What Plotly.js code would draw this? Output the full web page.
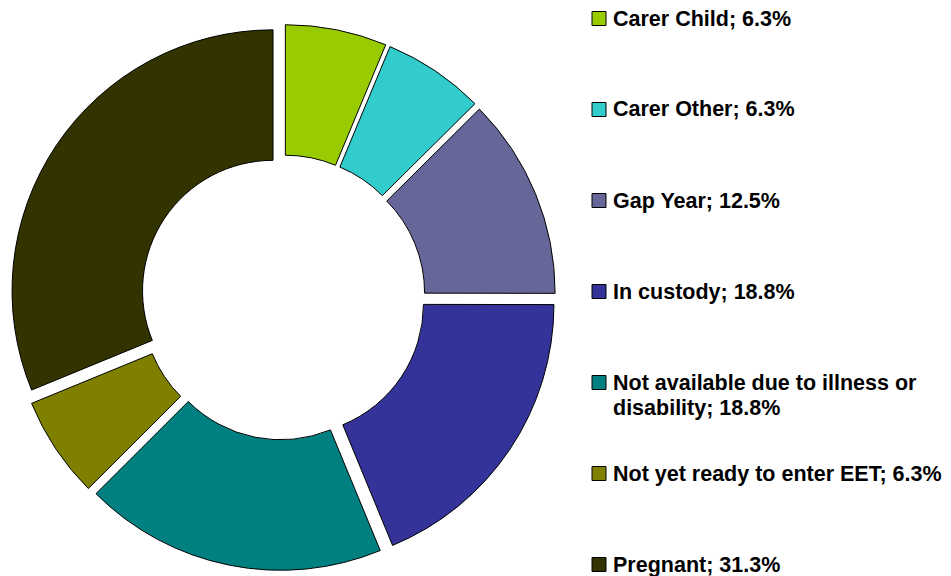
<!DOCTYPE html>
<html>
<head>
<meta charset="utf-8">
<script src="https://cdn.plot.ly/plotly-3.0.1.min.js"></script>
<style>html,body{margin:0;padding:0;background:#fff;}#chart{width:951px;height:576px;}</style>
</head>
<body>
<div id="chart"></div>
<script>
const labels = ["Carer Child", "Carer Other", "Gap Year", "In custody",
  "Not available due to illness or disability", "Not yet ready to enter EET", "Pregnant"];
const values = [6.3, 6.3, 12.5, 18.8, 18.8, 6.3, 31.3];
const colors = ["#99CC00", "#33CCCC", "#666699", "#333399", "#008080", "#808000", "#333300"];

const W = 951, H = 576;
const FONT = "Liberation Sans, Arial, sans-serif";

// legend text, wrapped like the reference
function wrap(text, maxChars) {
  const words = text.split(" ");
  const lines = [];
  let cur = "";
  words.forEach(w => {
    const t = cur ? cur + " " + w : w;
    if (t.length > maxChars && cur) { lines.push(cur); cur = w; } else { cur = t; }
  });
  if (cur) lines.push(cur);
  return lines;
}

const trace = {
  type: "pie",
  labels: labels,
  values: values,
  sort: false,
  direction: "clockwise",
  rotation: 0,
  hole: 0.5,
  pull: labels.map(() => 0.046),
  marker: { colors: colors, line: { color: "#000000", width: 1 } },
  textinfo: "none",
  hoverinfo: "label+percent",
  showlegend: false,
  domain: { x: [10 / W, 556 / W], y: [1 - 570.5 / H, 1 - 24.5 / H] }
};

const annotations = [];
const shapes = [];
const rowStart = 18.5, rowStep = 91, lineStep = 25;
labels.forEach((lab, i) => {
  const y0 = rowStart + i * rowStep;
  shapes.push({
    type: "rect", xref: "paper", yref: "paper",
    x0: 592 / W, x1: 606 / W, y0: 1 - (y0 - 7) / H, y1: 1 - (y0 + 7) / H,
    fillcolor: colors[i], line: { color: "#000000", width: 1 }
  });
  const lines = wrap(lab + "; " + values[i].toFixed(1) + "%", 32);
  lines.forEach((ln, j) => {
    annotations.push({
      xref: "paper", yref: "paper",
      x: 611 / W, y: 1 - (y0 + j * lineStep) / H,
      xanchor: "left", yanchor: "middle",
      text: "<b>" + ln + "</b>", showarrow: false, align: "left",
      font: { family: FONT, size: 21.5, color: "#000000" }
    });
  });
});

const layout = {
  width: W, height: H,
  margin: { l: 0, r: 0, t: 0, b: 0 },
  paper_bgcolor: "#ffffff",
  plot_bgcolor: "#ffffff",
  showlegend: false,
  annotations: annotations,
  shapes: shapes
};

Plotly.newPlot("chart", [trace], layout, { displayModeBar: false, staticPlot: true });
</script>
</body>
</html>
